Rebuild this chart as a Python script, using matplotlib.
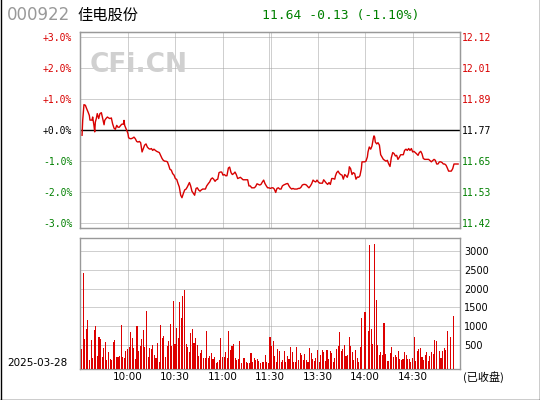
import matplotlib.pyplot as plt
import matplotlib.lines as mlines
import numpy as np

CODE = "000922"
NAME = "佳电股份"
DATE = "2025-03-28"
STATUS = "(已收盘)"
WATERMARK = "CFi.CN"
PREV_CLOSE = 11.77
LAST_PRICE = 11.64

pct_levels = [3, 2, 1, 0, -1, -2, -3]
time_ticks = [30, 60, 90, 120, 150, 180, 210]
time_labels = ["10:00", "10:30", "11:00", "11:30", "13:30", "14:00", "14:30"]
vol_ticks = [500, 1000, 1500, 2000, 2500, 3000]

# minutes since 9:30 (lunch break removed) and change vs previous close in %
t_min = [
    1.3, 1.7, 2.5, 3.4, 4.2, 5.1, 5.9, 6.3, 7.6, 8.0, 8.8, 9.3, 9.7, 10.3, 10.9,
    11.8, 12.6, 13.5, 14.3, 15.2, 15.6, 16.4, 17.3, 18.1, 18.9, 19.8, 20.6, 21.5,
    22.3, 23.2, 24.0, 24.8, 25.7, 26.5, 27.4, 27.8, 28.2, 29.1, 29.9, 30.3, 30.7,
    31.6, 32.4, 33.3, 34.1, 34.9, 35.8, 36.6, 37.5, 38.3, 39.2, 40.0, 40.8, 41.7,
    42.5, 43.4, 44.2, 45.1, 45.9, 46.7, 47.6, 48.4, 49.3, 50.1, 50.9, 51.8, 52.6,
    53.5, 54.3, 55.2, 56.0, 56.8, 57.7, 58.5, 59.4, 60.2, 61.1, 61.9, 62.7, 63.6,
    64.4, 65.3, 66.1, 67.0, 67.8, 69.1, 69.9, 70.7, 71.6, 72.4, 73.3, 74.1, 74.9,
    75.8, 76.6, 77.5, 78.3, 79.2, 80.0,
    81.1, 81.9, 82.7, 83.6, 84.4, 85.3, 86.1, 87.0, 87.8, 88.6, 89.5, 90.3, 91.2,
    92.0, 92.8, 93.7, 94.5, 95.4, 96.2, 97.1, 97.9, 98.7, 99.6, 100.4, 101.3,
    102.1, 103.0, 103.8, 105.1, 105.9, 106.7, 107.6, 108.4, 109.3, 110.1, 110.9,
    111.8, 112.6, 113.5, 114.3, 115.2, 116.0, 116.8, 117.7, 118.5, 119.4, 120.2,
    121.1, 121.9, 122.7, 123.6, 124.4, 125.3, 126.1, 127.0, 127.8, 128.6, 129.5,
    130.3, 131.2, 132.0, 132.8, 133.7, 134.5, 135.4, 136.2, 137.1, 137.9, 138.7,
    139.6, 140.4, 141.3, 142.1, 143.0, 143.8, 144.6, 145.5, 146.3, 147.2, 148.0,
    148.9, 149.7, 150.5, 151.4, 152.2, 153.1, 153.9, 154.7, 155.6, 156.4, 157.3,
    158.1, 159.0, 159.8, 160.9,
    161.3, 162.1, 163.0, 163.8, 164.6, 165.5, 166.3, 167.2, 168.0, 168.8, 169.7,
    170.1, 170.9, 171.8, 172.6, 173.5, 174.3, 175.2, 176.0, 176.8, 177.7, 178.1,
    178.9, 179.8, 180.6, 181.5, 181.9, 182.7, 183.6, 184.4, 185.3, 185.7, 186.1,
    186.5, 187.4, 188.2, 189.1, 189.9, 190.7, 191.6, 192.4, 193.3, 194.1, 194.9,
    195.8, 196.6, 197.5, 198.3, 199.2, 200.0, 200.8, 201.7, 202.5, 203.4, 204.2,
    205.0, 205.9, 206.7, 207.6, 208.4, 209.3, 210.1, 210.9, 211.8, 212.6, 213.5,
    214.3, 215.2, 216.0, 216.8, 217.7, 218.5, 219.4, 220.2, 221.1, 221.9, 222.7,
    223.6, 224.4, 225.3, 226.1, 227.0, 227.8, 228.6, 229.5, 230.3, 231.2, 232.0,
    232.8, 233.7, 234.5, 235.4, 236.2, 237.1, 237.9, 238.8,
]
pct = [
    -0.17, 0.31, 0.82, 0.80, 0.69, 0.58, 0.47, 0.32, 0.32, 0.42, 0.15, -0.06,
    0.26, 0.37, 0.53, 0.37, 0.53, 0.56, 0.37, 0.17, 0.31, 0.37, 0.42, 0.39, 0.37,
    0.39, 0.20, 0.06, 0.02, 0.15, 0.09, 0.09, 0.15, 0.19, 0.19, 0.31, 0.15, 0.04,
    -0.06, -0.12, -0.25, -0.28, -0.28, -0.26, -0.23, -0.28, -0.37, -0.39, -0.37,
    -0.41, -0.71, -0.60, -0.49, -0.45, -0.55, -0.60, -0.62, -0.60, -0.66, -0.62,
    -0.66, -0.69, -0.71, -0.73, -0.82, -0.92, -0.98, -1.01, -1.01, -1.03, -1.14,
    -1.27, -1.30, -1.41, -1.46, -1.57, -1.60, -1.73, -1.84, -2.11, -2.19, -2.05,
    -1.94, -1.91, -1.84, -1.70, -1.81, -1.98, -2.05, -2.11, -1.89, -1.87, -1.94,
    -1.98, -1.94, -1.91, -1.91, -1.91, -1.81,
    -1.73, -1.68, -1.59, -1.55, -1.59, -1.66, -1.61, -1.59, -1.38, -1.36, -1.36,
    -1.46, -1.44, -1.48, -1.48, -1.23, -1.20, -1.38, -1.44, -1.41, -1.36, -1.44,
    -1.57, -1.55, -1.53, -1.57, -1.61, -1.61, -1.61, -1.61, -1.81, -1.81, -1.87,
    -1.87, -1.87, -1.83, -1.74, -1.76, -1.78, -1.76, -1.68, -1.62, -1.73, -1.81,
    -1.87, -1.87, -1.89, -1.87, -1.87, -1.91, -2.02, -1.89, -1.87, -1.91, -1.91,
    -1.81, -1.78, -1.76, -1.74, -1.73, -1.81, -1.87, -1.91, -1.89, -1.91, -1.91,
    -1.91, -1.89, -1.89, -1.85, -1.78, -1.76, -1.76, -1.78, -1.83, -1.87, -1.81,
    -1.74, -1.62, -1.66, -1.68, -1.62, -1.68, -1.72, -1.72, -1.72, -1.61, -1.66,
    -1.72, -1.76, -1.70, -1.76, -1.57, -1.57, -1.59,
    -1.49, -1.38, -1.33, -1.40, -1.44, -1.46, -1.59, -1.44, -1.48, -1.53, -1.38,
    -1.19, -1.25, -1.44, -1.38, -1.41, -1.59, -1.52, -1.53, -1.48, -1.25, -1.03,
    -1.03, -1.03, -1.01, -0.87, -0.71, -0.55, -0.62, -0.52, -0.26, -0.19, -0.23,
    -0.39, -0.45, -0.41, -0.49, -0.80, -0.87, -0.95, -0.98, -1.01, -0.98, -1.09,
    -1.18, -0.90, -0.73, -0.76, -0.84, -0.82, -0.95, -0.88, -0.80, -0.80, -0.80,
    -0.66, -0.62, -0.66, -0.60, -0.66, -0.60, -0.71, -0.69, -0.73, -0.77, -0.82,
    -0.73, -0.69, -0.77, -0.92, -0.95, -0.95, -0.95, -0.95, -0.99, -1.03, -0.99,
    -0.95, -0.98, -1.10, -1.10, -1.03, -1.03, -1.05, -1.10, -1.10, -1.14, -1.23,
    -1.33, -1.33, -1.33, -1.25, -1.10, -1.10, -1.10, -1.10,
]

# volume per minute, 9:31-11:30 (minutes 1..120)
vol_am = [
    384, 2420, 652, 920, 1161, 89, 625, 143, 893, 1000,
    196, 705, 652, 170, 411, 572, 89, 304, 116, 89,
    572, 625, 170, 170, 196, 1027, 170, 143, 330, 384,
    438, 839, 679, 411, 116, 1000, 330, 464, 652, 893,
    438, 1402, 170, 411, 384, 491, 223, 143, 545, 36,
    1027, 679, 732, 170, 464, 598, 1054, 464, 1670, 518,
    946, 679, 1643, 1214, 1804, 1965, 518, 438, 304, 813,
    920, 545, 679, 491, 196, 277, 357, 143, 143, 866,
    143, 196, 277, 116, 170, 20, 36, 89, 679, 170,
    170, 304, 143, 866, 357, 464, 518, 143, 89, 116,
    598, 20, 143, 143, 36, 20, 20, 277, 36, 143,
    89, 116, 63, 20, 36, 36, 223, 36, 20, 705,
]
# 13:01-13:40 (minutes 121..160)
vol_pm = [
    464, 598, 196, 36, 384, 330, 36, 89, 330, 36,
    196, 116, 438, 304, 36, 36, 438, 89, 277, 223,
    89, 250, 89, 36, 411, 277, 116, 63, 143, 357,
    36, 223, 357, 304, 63, 357, 116, 330, 277, 36,
]
# after 13:40 some minutes have no bar
vol_late_min = [
    161, 162, 163, 164, 165, 166, 167, 168, 169, 170,
    171, 172, 173, 174, 175, 176, 177, 178, 180, 182,
    183, 184, 185, 186, 187, 188, 189, 190, 191, 192,
    193, 194, 195, 196, 197, 198, 199, 200, 201, 202,
    203, 204, 205, 206, 207, 208, 209, 210, 211, 212,
    213, 214, 215, 216, 217, 218, 219, 220, 221, 222,
    223, 224, 225, 227, 228, 229, 230, 231, 232, 234,
    236,
]
vol_late = [
    143, 384, 464, 839, 330, 384, 491, 196, 223, 705,
    464, 304, 89, 357, 143, 36, 438, 1214, 1375, 866,
    3170, 920, 518, 3197, 1697, 491, 223, 304, 223, 1080,
    250, 63, 63, 277, 438, 170, 223, 170, 330, 116,
    89, 116, 304, 223, 116, 116, 36, 143, 705, 63,
    330, 384, 411, 170, 89, 223, 304, 63, 196, 304,
    250, 625, 598, 330, 143, 330, 411, 357, 866, 705,
    1268,
]

RED = "#d80000"
GREEN = "#008000"
GRID = "#a0a0a0"
SPINE = "#999999"
MONO = "DejaVu Sans Mono"
CJK = ["Noto Sans CJK SC", "DejaVu Sans"]
PX = 0.72  # one pixel in points at 100 dpi


def level_color(p):
    if p > 0:
        return RED
    if p < 0:
        return GREEN
    return "black"


def style_axes(ax):
    for s in ax.spines.values():
        s.set_color(SPINE)
        s.set_linewidth(1.0)
    ax.set_xlim(0, 240)
    ax.tick_params(length=0)
    for t in time_ticks:
        xs = [t - 0.5, t + 0.5] if t == 120 else [t]
        for x in xs:
            ax.axvline(x, color=GRID, lw=PX, ls=(0, (1, 1)), zorder=1)


def price_panel(ax):
    style_axes(ax)
    lim = 3.17
    ax.set_ylim(-lim, lim)
    for p in pct_levels:
        if p != 0:
            ax.axhline(p, color=GRID, lw=PX, ls=(0, (1, 1)), zorder=1)
    ax.axhline(0, color="black", lw=1.0, zorder=2)
    ax.plot(t_min, pct, color=RED, lw=1.0, zorder=3)
    ax.set_xticks([])
    ax.set_yticks(pct_levels)
    ax.set_yticklabels(["%+.1f%%" % p if p != 0 else "+0.0%" for p in pct_levels],
                       family=MONO, fontsize=7)
    ax.tick_params(axis="y", pad=5.5)
    for lab, p in zip(ax.get_yticklabels(), pct_levels):
        lab.set_color(level_color(p))

    ax_r = ax.twinx()
    ax_r.set_ylim(-lim, lim)
    ax_r.set_yticks(pct_levels)
    ax_r.set_yticklabels(["%.2f" % (PREV_CLOSE * (1 + p / 100)) for p in pct_levels],
                         family=MONO, fontsize=7)
    ax_r.tick_params(length=0, pad=1.5)
    for lab, p in zip(ax_r.get_yticklabels(), pct_levels):
        lab.set_color(level_color(p))
    for s in ax_r.spines.values():
        s.set_color(SPINE)


def volume_panel(ax):
    style_axes(ax)
    floor = -160
    ax.set_ylim(floor, 3350)
    for v in vol_ticks:
        ax.axhline(v, color=GRID, lw=PX, ls=(0, (1, 1)), zorder=1)
    x = list(range(1, 121)) + list(range(121, 161)) + vol_late_min
    v = np.array(vol_am + vol_pm + vol_late)
    ax.bar(x, v - floor, bottom=floor, width=0.7, color="#dd0000", lw=0, zorder=3)
    ax.yaxis.tick_right()
    ax.set_yticks(vol_ticks)
    ax.set_yticklabels([str(t) for t in vol_ticks], fontsize=7)
    ax.tick_params(axis="y", pad=3)
    ax.set_xticks(time_ticks)
    ax.set_xticklabels(time_labels, fontsize=7.5)
    ax.tick_params(axis="x", pad=2)


def main():
    fig = plt.figure(figsize=(5.4, 4.0), dpi=100)
    ax_p = fig.add_axes([80 / 540, 172 / 400, 380 / 540, 196 / 400])
    ax_v = fig.add_axes([80 / 540, 30.7 / 400, 380 / 540, 131 / 400])
    price_panel(ax_p)
    volume_panel(ax_v)

    chg = LAST_PRICE - PREV_CLOSE
    head = "%.2f %.2f (%.2f%%)" % (LAST_PRICE, chg, chg / PREV_CLOSE * 100)
    fig.text(7 / 540, 385 / 400, CODE, fontsize=12, color="#999999", va="center")
    fig.text(77 / 540, 385 / 400, NAME, fontsize=11, family=CJK, va="center")
    fig.text(262 / 540, 385 / 400, head, fontsize=9.4, family=MONO, color=GREEN,
             va="center")
    fig.text(139 / 540, 335 / 400, WATERMARK, fontsize=19, weight="bold",
             color="#d0d0d0", ha="center", va="center", zorder=0)
    fig.text(7 / 540, 36.7 / 400, DATE, fontsize=7.5, va="center")
    fig.text(463 / 540, 23.3 / 400, STATUS, fontsize=8, family=CJK, va="center")

    for xs, ys in [([0.5, 0.5], [0, 400]), ([539.5, 539.5], [0, 400]),
                   ([0, 540], [0.5, 0.5])]:
        fig.add_artist(mlines.Line2D(np.array(xs) / 540, np.array(ys) / 400,
                                     color="black", lw=1.0))

    fig.savefig("out.png", dpi=100)
    plt.close(fig)


if __name__ == "__main__":
    main()
